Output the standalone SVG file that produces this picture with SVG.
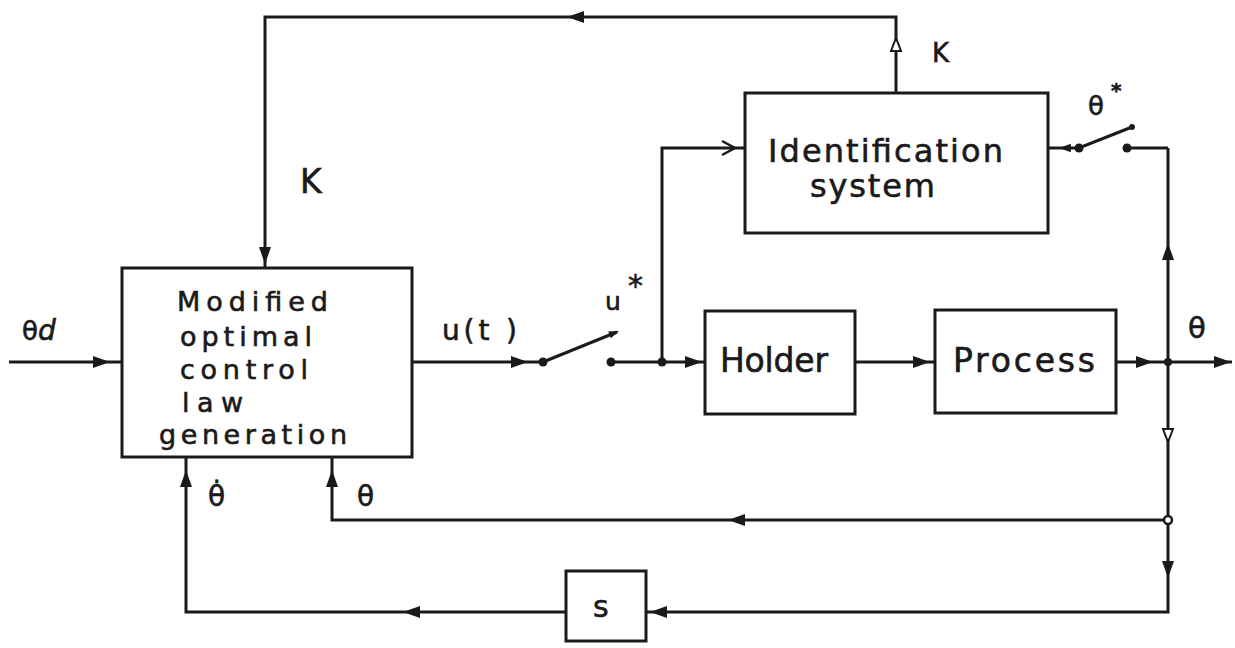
<svg xmlns="http://www.w3.org/2000/svg" width="1235" height="648" viewBox="0 0 1235 648">
<style>
.box{fill:none;stroke:#1a1a1a;stroke-width:3}
.ln{fill:none;stroke:#1a1a1a;stroke-width:3;stroke-linejoin:miter}
.t{font-family:"DejaVu Sans","Liberation Sans",sans-serif;fill:#1a1a1a;stroke:#1a1a1a;stroke-width:0.6}
.dot{fill:#1a1a1a}
</style>
<defs>
<path id="ah" d="M0,0 L-17,-6 L-17,6 Z" fill="#1a1a1a"/>
<path id="ahh" d="M0,0 L-13,-5 L-13,5 Z" fill="#fff" stroke="#1a1a1a" stroke-width="2"/>
</defs>
<rect width="1235" height="648" fill="#fff"/>

<g id="connectors">
<polyline class="ln" points="9,362 122,362"/>
<polyline class="ln" points="412,362 543,362"/>
<polyline class="ln" points="543,362 617,332"/>
<polyline class="ln" points="611,362 705,362"/>
<polyline class="ln" points="662,362 662,148 745,148"/>
<polyline class="ln" points="855,362 935,362"/>
<polyline class="ln" points="1115,362 1232,362"/>
<polyline class="ln" points="1168,148 1168,612 646,612"/>
<polyline class="ln" points="566,612 186,612 186,457"/>
<polyline class="ln" points="1168,520 332,520 332,457"/>
<polyline class="ln" points="1048,148 1079,148 1132,127"/>
<polyline class="ln" points="1127,148 1168,148"/>
<polyline class="ln" points="896,93 896,17 265,17 265,268"/>
<polyline class="ln" points="722,141 735,148 722,155" style="stroke-width:2.5"/>
<use href="#ah" transform="translate(110,362)"/>
<use href="#ah" transform="translate(528,362)"/>
<use href="#ah" transform="translate(702,362)"/>
<use href="#ah" transform="translate(930,362)"/>
<use href="#ah" transform="translate(1153,362)"/>
<use href="#ah" transform="translate(1231,362)"/>
<use href="#ah" transform="translate(567,17) rotate(180)"/>
<use href="#ah" transform="translate(265,264) rotate(90)"/>
<use href="#ah" transform="translate(1168,243) rotate(-90)"/>
<use href="#ah" transform="translate(1168,578) rotate(90)"/>
<use href="#ah" transform="translate(650,612) rotate(180)"/>
<use href="#ah" transform="translate(403,612) rotate(180)"/>
<use href="#ah" transform="translate(186,470) rotate(-90)"/>
<use href="#ah" transform="translate(332,470) rotate(-90)"/>
<use href="#ah" transform="translate(728,520) rotate(180)"/>
<use href="#ah" transform="translate(1059,148) rotate(180) scale(0.7)"/>
<use href="#ah" transform="translate(619,331) rotate(-22) scale(0.6)"/>
<use href="#ahh" transform="translate(896,38) rotate(-90)"/>
<use href="#ahh" transform="translate(1168,442) rotate(90)"/>
<circle class="dot" cx="543" cy="362" r="4.5"/>
<circle class="dot" cx="611" cy="362" r="4.5"/>
<circle class="dot" cx="662" cy="362" r="4.5"/>
<circle class="dot" cx="1168" cy="362" r="4"/>
<circle class="dot" cx="1079" cy="148" r="4.5"/>
<circle class="dot" cx="1127" cy="148" r="4.5"/>
<circle class="dot" cx="1132" cy="127" r="3"/>
<circle cx="1168" cy="520" r="4" fill="#fff" stroke="#1a1a1a" stroke-width="2.5"/>
</g>

<g id="labels">
<text class="t" x="22" y="340" font-size="26">θ<tspan font-style="italic" font-size="28">d</tspan></text>
<text class="t" x="300" y="193" font-size="33">K</text>
<text class="t" x="932" y="62" font-size="26">K</text>
<text class="t" x="442" y="340" font-size="28" textLength="75" lengthAdjust="spacing">u(t )</text>
<text class="t" x="605" y="310" font-size="25">u</text>
<text class="t" x="628" y="296" font-size="30">*</text>
<text class="t" x="1088" y="115" font-size="26">θ</text>
<text class="t" x="1111" y="97" font-size="20" font-weight="bold">*</text>
<text class="t" x="1188" y="338" font-size="29">θ</text>
<text class="t" x="208" y="506" font-size="28">θ̇</text>
<text class="t" x="357" y="506" font-size="28">θ</text>
</g>

<g id="node-law">
<rect class="box" x="122" y="268" width="290" height="189"/>
<text class="t" font-size="27" x="177" y="311" textLength="151" lengthAdjust="spacing">Modified</text>
<text class="t" font-size="27" x="180" y="346" textLength="132" lengthAdjust="spacing">optimal</text>
<text class="t" font-size="27" x="180" y="379" textLength="128" lengthAdjust="spacing">control</text>
<text class="t" font-size="27" x="182" y="412" textLength="61" lengthAdjust="spacing">law</text>
<text class="t" font-size="27" x="159" y="444" textLength="188" lengthAdjust="spacing">generation</text>
</g>

<g id="node-ident">
<rect class="box" x="745" y="93" width="303" height="140"/>
<text class="t" font-size="32" x="768" y="162" textLength="235" lengthAdjust="spacing">Identification</text>
<text class="t" font-size="32" x="810" y="197" textLength="125" lengthAdjust="spacing">system</text>
</g>

<g id="node-holder">
<rect class="box" x="705" y="311" width="150" height="103"/>
<text class="t" font-size="33" x="720" y="372" textLength="108" lengthAdjust="spacing">Holder</text>
</g>

<g id="node-process">
<rect class="box" x="935" y="310" width="181" height="103"/>
<text class="t" font-size="33" x="953" y="372" textLength="142" lengthAdjust="spacing">Process</text>
</g>

<g id="node-s">
<rect class="box" x="566" y="571" width="80" height="70"/>
<text class="t" font-size="30" x="593" y="617">s</text>
</g>
</svg>
